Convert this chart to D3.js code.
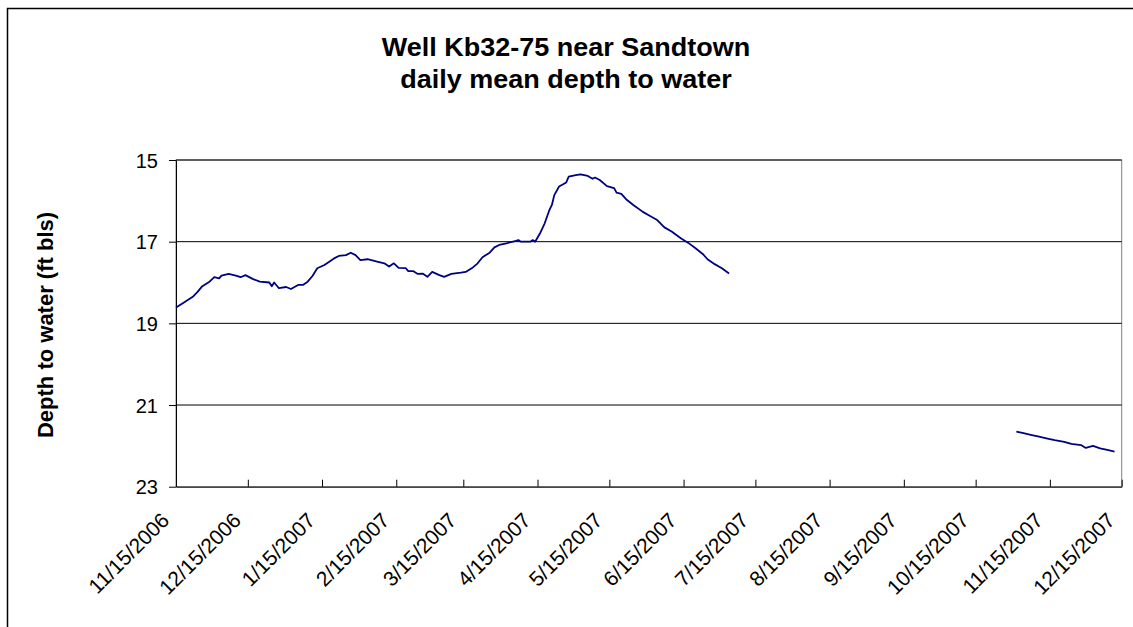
<!DOCTYPE html>
<html>
<head>
<meta charset="utf-8">
<script src="https://cdn.jsdelivr.net/npm/d3@7"></script>
<style>
  body { margin: 0; background: #fff; }
  svg { display: block; font-family: "Liberation Sans", Arial, sans-serif; }
</style>
</head>
<body>
<div id="chart"></div>
<script>
// Values (depth to water, ft below land surface)
const titleLines = ['Well Kb32-75 near Sandtown', 'daily mean depth to water'];
const yLabel = 'Depth to water (ft bls)';

const xTickLabels = ['11/15/2006', '12/15/2006', '1/15/2007', '2/15/2007', '3/15/2007',
  '4/15/2007', '5/15/2007', '6/15/2007', '7/15/2007', '8/15/2007', '9/15/2007',
  '10/15/2007', '11/15/2007', '12/15/2007'];
const yTicks = [15, 17, 19, 21, 23];

// first record: Nov 2006 - early Jul 2007
const datesA = ['11/15/2006', '11/18/2006', '11/22/2006', '11/24/2006', '11/26/2006', '11/29/2006',
  '12/1/2006', '12/3/2006', '12/4/2006', '12/7/2006', '12/10/2006', '12/12/2006', '12/14/2006',
  '12/17/2006', '12/20/2006', '12/24/2006', '12/25/2006', '12/26/2006', '12/28/2006', '12/31/2006',
  '1/2/2007', '1/5/2007', '1/7/2007', '1/9/2007', '1/11/2007', '1/13/2007', '1/16/2007', '1/18/2007',
  '1/20/2007', '1/22/2007', '1/25/2007', '1/27/2007', '1/29/2007', '1/31/2007', '2/3/2007',
  '2/7/2007', '2/10/2007', '2/12/2007', '2/14/2007', '2/16/2007', '2/19/2007', '2/20/2007',
  '2/22/2007', '2/24/2007', '2/26/2007', '2/28/2007', '3/2/2007', '3/5/2007', '3/7/2007',
  '3/10/2007', '3/14/2007', '3/16/2007', '3/19/2007', '3/21/2007', '3/23/2007', '3/26/2007',
  '3/28/2007', '3/30/2007', '4/2/2007', '4/6/2007', '4/7/2007', '4/8/2007', '4/12/2007',
  '4/13/2007', '4/14/2007', '4/16/2007', '4/18/2007', '4/20/2007', '4/21/2007', '4/22/2007',
  '4/24/2007', '4/27/2007', '4/28/2007', '5/1/2007', '5/3/2007', '5/6/2007', '5/8/2007',
  '5/9/2007', '5/11/2007', '5/14/2007', '5/17/2007', '5/18/2007', '5/20/2007', '5/22/2007',
  '5/25/2007', '5/29/2007', '6/1/2007', '6/4/2007', '6/7/2007', '6/10/2007', '6/14/2007',
  '6/17/2007', '6/20/2007', '6/23/2007', '6/25/2007', '6/28/2007', '7/1/2007', '7/4/2007'];
const depthsA = [18.61, 18.50, 18.35, 18.23, 18.09, 17.98,
  17.87, 17.90, 17.83, 17.79, 17.83, 17.87, 17.82,
  17.91, 17.98, 18.00, 18.09, 18.00, 18.14, 18.11,
  18.16, 18.06, 18.06, 17.98, 17.84, 17.65, 17.57, 17.49,
  17.41, 17.35, 17.33, 17.27, 17.33, 17.45, 17.43,
  17.49, 17.53, 17.61, 17.53, 17.64, 17.65, 17.72,
  17.72, 17.79, 17.78, 17.86, 17.74, 17.82, 17.86,
  17.79, 17.76, 17.74, 17.63, 17.53, 17.38, 17.27,
  17.14, 17.08, 17.04, 16.98, 16.96, 17.00, 17.00,
  16.96, 17.00, 16.80, 16.55, 16.22, 16.10, 15.86,
  15.65, 15.55, 15.41, 15.37, 15.35, 15.39, 15.46,
  15.43, 15.49, 15.64, 15.69, 15.80, 15.83, 15.96,
  16.10, 16.27, 16.37, 16.47, 16.65, 16.75, 16.92,
  17.03, 17.16, 17.30, 17.43, 17.55, 17.65, 17.78];

// second record: Nov - Dec 2007
const datesB = ['11/1/2007', '11/4/2007', '11/7/2007', '11/10/2007', '11/14/2007', '11/17/2007',
  '11/21/2007', '11/24/2007', '11/28/2007', '11/30/2007', '12/3/2007', '12/6/2007', '12/9/2007',
  '12/12/2007'];
const depthsB = [21.65, 21.69, 21.73, 21.77, 21.82, 21.86,
  21.90, 21.95, 21.98, 22.05, 22.00, 22.06, 22.10, 22.14];

class DepthChart {
  /**
   * @param {string} elementId - container id
   * @param {number} width
   * @param {number} height
   */
  constructor(elementId, width, height) {
    this.elementId = elementId;
    this.width = width;
    this.height = height;
    this.plot = { left: 176, top: 160, right: 1121.7, bottom: 486.7 };
    this.parse = d3.utcParse('%m/%d/%Y');
    this.fmt = d3.utcFormat('%-m/%-d/%Y');
  }

  init() {
    this.svg = d3.select(`#${this.elementId}`).append('svg')
      .attr('width', this.width)
      .attr('height', this.height);

    const p = this.plot;
    const ticks = xTickLabels.map(this.parse);
    this.x = d3.scaleUtc()
      .domain([ticks[0], ticks[ticks.length - 1]])
      .range([p.left, p.right]);
    this.y = d3.scaleLinear().domain([15, 23]).range([p.top, p.bottom]);

    this.drawFrame();
    this.drawGrid();
    this.drawAxes(ticks);
    this.drawSeries([datesA, depthsA], [datesB, depthsB]);
    this.drawTitles();
  }

  drawFrame() {
    const p = this.plot;
    // chart area border, runs off the right and bottom edges
    this.svg.append('path')
      .attr('d', 'M7.5,700V8.5H1200')
      .attr('fill', 'none')
      .attr('stroke', '#000')
      .attr('stroke-width', 1.5);

    // plot area border (grey)
    this.svg.append('rect')
      .attr('x', p.left).attr('y', p.top)
      .attr('width', p.right - p.left).attr('height', p.bottom - p.top)
      .attr('fill', 'none')
      .attr('stroke', '#808080')
      .attr('stroke-width', 1);
  }

  drawGrid() {
    const p = this.plot;
    this.svg.append('g').selectAll('line')
      .data(yTicks.slice(0, -1))
      .enter().append('line')
      .attr('x1', p.left).attr('x2', p.right)
      .attr('y1', d => this.y(d)).attr('y2', d => this.y(d))
      .attr('stroke', '#000')
      .attr('stroke-width', 1);
  }

  drawAxes(ticks) {
    const p = this.plot;

    const xAxis = this.svg.append('g')
      .attr('transform', `translate(0,${p.bottom})`)
      .call(d3.axisBottom(this.x).tickValues(ticks).tickFormat(this.fmt)
        .tickSizeInner(-7).tickSizeOuter(0));
    xAxis.select('.domain').attr('stroke', '#000');
    xAxis.selectAll('.tick line').attr('stroke', '#000');
    xAxis.selectAll('.tick text')
      .attr('x', 0).attr('y', 0).attr('dy', null)
      .attr('text-anchor', 'end')
      .attr('transform', 'translate(-6,35) rotate(-45)')
      .attr('font-size', 21)
      .attr('font-family', '"Liberation Sans", Arial, sans-serif')
      .attr('fill', '#000');

    const yAxis = this.svg.append('g')
      .attr('transform', `translate(${p.left},0)`)
      .call(d3.axisLeft(this.y).tickValues(yTicks).tickSize(7).tickPadding(11).tickSizeOuter(0));
    yAxis.select('.domain').attr('stroke', '#000');
    yAxis.selectAll('.tick line').attr('stroke', '#000');
    yAxis.selectAll('.tick text')
      .attr('dy', '0.35em')
      .attr('font-size', 20)
      .attr('font-family', '"Liberation Sans", Arial, sans-serif')
      .attr('fill', '#000');
  }

  drawSeries(...segments) {
    const line = d3.line()
      .x(d => this.x(d.date))
      .y(d => this.y(d.depth));

    segments.forEach(([dates, depths]) => {
      const rows = dates.map((s, i) => ({ date: this.parse(s), depth: depths[i] }));
      this.svg.append('path')
        .datum(rows)
        .attr('d', line)
        .attr('fill', 'none')
        .attr('stroke', '#000080')
        .attr('stroke-width', 1.8)
        .attr('stroke-linejoin', 'round');
    });
  }

  drawTitles() {
    this.svg.selectAll('.title')
      .data(titleLines)
      .enter().append('text')
      .attr('class', 'title')
      .attr('transform', (d, i) => `translate(566,${56 + i * 32}) scale(1.08,1)`)
      .attr('text-anchor', 'middle')
      .attr('font-size', 25)
      .attr('font-weight', 'bold')
      .text(d => d);

    this.svg.append('text')
      .attr('transform', 'translate(53,325) rotate(-90)')
      .attr('text-anchor', 'middle')
      .attr('font-size', 22)
      .attr('font-weight', 'bold')
      .text(yLabel);
  }
}

const chart = new DepthChart('chart', 1133, 627);
chart.init();
</script>
</body>
</html>
